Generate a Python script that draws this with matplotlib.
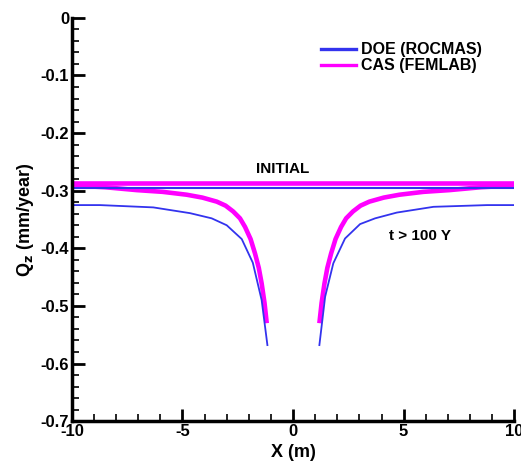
import numpy as np
import matplotlib.pyplot as plt

plt.rcParams['font.family'] = ['Liberation Sans', 'DejaVu Sans']
plt.rcParams['font.weight'] = 'bold'

# initial flux (both models)
x_init = [-10, 10]
doe_init = [-0.296, -0.296]
cas_init = [-0.287, -0.287]

# t > 100 Y, DOE (ROCMAS), left and right of the well
doe_x_left = [-10, -8.73, -6.32, -4.66, -3.68, -3.0, -2.32, -1.82, -1.42, -1.16]
doe_q_left = [-0.325, -0.325, -0.329, -0.339, -0.348, -0.360, -0.384, -0.425, -0.490, -0.568]
doe_x_right = [1.19, 1.45, 1.82, 2.35, 3.03, 3.71, 4.69, 6.35, 8.77, 10]
doe_q_right = [-0.568, -0.484, -0.426, -0.383, -0.358, -0.348, -0.338, -0.328, -0.325, -0.325]

# t > 100 Y, CAS (FEMLAB)
cas_x_left = [-10, -8.5, -7.07, -5.9, -4.81, -4.1, -3.45, -3.05, -2.71, -2.4, -2.17, -1.92, -1.72, -1.55, -1.42, -1.29, -1.19]
cas_q_left = [-0.291, -0.294, -0.299, -0.302, -0.307, -0.312, -0.319, -0.326, -0.336, -0.348, -0.363, -0.384, -0.409, -0.434, -0.461, -0.495, -0.530]
cas_x_right = [1.19, 1.29, 1.42, 1.55, 1.72, 1.92, 2.17, 2.4, 2.71, 3.05, 3.45, 4.1, 4.81, 5.9, 7.07, 8.5, 10]
cas_q_right = [-0.530, -0.495, -0.461, -0.434, -0.409, -0.384, -0.363, -0.348, -0.336, -0.326, -0.319, -0.312, -0.307, -0.302, -0.299, -0.294, -0.291]

blue = '#3333ee'
mag = '#ff00ff'

fig = plt.figure(figsize=(5.21, 4.70), dpi=100)
ax = fig.add_axes([0.138, 0.104, 0.849, 0.858])

ax.plot(x_init, cas_init, color=mag, lw=3.3, solid_capstyle='butt')
ax.plot(cas_x_left, cas_q_left, color=mag, lw=3.3, solid_capstyle='butt')
ax.plot(cas_x_right, cas_q_right, color=mag, lw=3.3, solid_capstyle='butt')
ax.plot(x_init, doe_init, color=blue, lw=1.5)
ax.plot(doe_x_left, doe_q_left, color=blue, lw=1.3)
ax.plot(doe_x_right, doe_q_right, color=blue, lw=1.3)

# legend handles
ax.plot([], [], color=blue, lw=2.4, label='DOE (ROCMAS)')
ax.plot([], [], color=mag, lw=2.4, label='CAS (FEMLAB)')
h, l = ax.get_legend_handles_labels()
ax.legend(h[-2:], l[-2:], loc='upper left', bbox_to_anchor=(0.53, 0.975), frameon=False,
          handlelength=2.2, handletextpad=0.3, labelspacing=0.05,
          prop={'weight': 'bold', 'size': 11.5})

ax.text(-0.45, -0.262, 'INITIAL', ha='center', va='center', fontsize=11, fontweight='bold')
ax.text(5.75, -0.378, 't > 100 Y', ha='center', va='center', fontsize=11, fontweight='bold')

ax.set_xlim(-10, 10)
ax.set_ylim(-0.7, 0)
ax.set_xticks([-10, -5, 0, 5, 10])
ax.set_xticklabels(['-10', '-5', '0', '5', '10'])
ax.set_yticks([0, -0.1, -0.2, -0.3, -0.4, -0.5, -0.6, -0.7])
ax.set_yticklabels(['0', '-0.1', '-0.2', '-0.3', '-0.4', '-0.5', '-0.6', '-0.7'])
ax.xaxis.set_minor_locator(plt.MultipleLocator(1))
ax.yaxis.set_minor_locator(plt.MultipleLocator(0.02))
ax.tick_params(which='major', direction='in', length=9, width=2, labelsize=12, pad=2)
ax.tick_params(which='minor', direction='in', length=5, width=1.2)
for t in ax.get_xticklabels() + ax.get_yticklabels():
    t.set_fontweight('bold')

ax.spines['top'].set_visible(False)
ax.spines['right'].set_visible(False)
ax.spines['left'].set_linewidth(2.5)
ax.spines['bottom'].set_linewidth(2.5)

ax.set_xlabel('X (m)', fontsize=13, fontweight='bold', labelpad=4)
ax.set_ylabel('Q$_\\mathbf{z}$ (mm/year)', fontsize=13, fontweight='bold', labelpad=3)

plt.savefig('out.png', dpi=100)
